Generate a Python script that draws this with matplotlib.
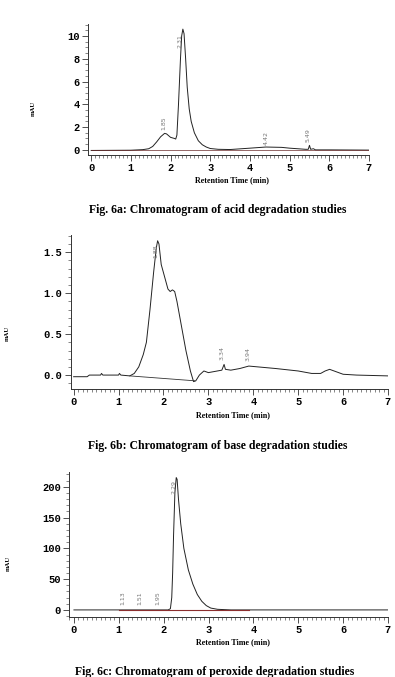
import matplotlib
matplotlib.use("Agg")
import matplotlib.pyplot as plt
from matplotlib.ticker import MultipleLocator

W, H = 395, 677

# ---------------- data ----------------
# Fig 6a: acid degradation
a_time = [0.0, 0.5, 1.0, 1.3, 1.45, 1.55, 1.65, 1.75, 1.85, 1.9, 1.95, 2.0, 2.1, 2.13,
          2.16, 2.2, 2.25, 2.28, 2.31, 2.34, 2.38, 2.42, 2.47, 2.52, 2.6, 2.7, 2.8,
          2.9, 3.0, 3.2, 3.5, 4.0, 4.4, 4.8, 5.0, 5.4, 5.47, 5.5, 5.53, 5.6, 5.65,
          6.0, 7.0]
a_mau = [-0.05, -0.04, -0.03, 0.02, 0.1, 0.3, 0.7, 1.15, 1.45, 1.4, 1.25, 1.1, 1.0, 0.95,
         1.3, 4.0, 8.0, 10.0, 10.6, 10.2, 8.0, 5.5, 3.6, 2.5, 1.5, 0.8, 0.45,
         0.25, 0.12, 0.05, 0.03, 0.15, 0.25, 0.22, 0.15, 0.05, 0.05, 0.4, 0.05, 0.1, 0.0,
         0.0, -0.02]
a_peaks = [1.83, 2.25, 4.42, 5.47]
a_peak_lbl = ["1.85", "2.31", "4.42", "5.49"]
a_peak_y = [1.75, 8.9, 0.45, 0.65]

# Fig 6b: base degradation
b_time = [0.0, 0.3, 0.35, 0.6, 0.62, 0.65, 1.0, 1.02, 1.05, 1.25, 1.35, 1.45, 1.55, 1.62,
          1.7, 1.78, 1.84, 1.87, 1.9, 1.95, 2.0, 2.05, 2.1, 2.15, 2.2, 2.25, 2.3, 2.4,
          2.5, 2.6, 2.67, 2.72, 2.8, 2.9, 3.0, 3.1, 3.3, 3.35, 3.38, 3.5, 3.7, 3.9,
          4.1, 4.5, 5.0, 5.3, 5.5, 5.6, 5.7, 5.8, 6.0, 6.3, 7.0]
b_mau = [-0.02, -0.02, 0.0, 0.0, 0.02, 0.0, 0.0, 0.02, 0.0, -0.01, 0.02, 0.1, 0.25, 0.4,
         0.8, 1.25, 1.55, 1.64, 1.6, 1.35, 1.25, 1.15, 1.05, 1.02, 1.04, 1.02, 0.9, 0.6,
         0.3, 0.05, -0.08, -0.07, 0.0, 0.05, 0.03, 0.04, 0.06, 0.13, 0.07, 0.06, 0.08, 0.11,
         0.1, 0.08, 0.05, 0.02, 0.02, 0.05, 0.07, 0.05, 0.01, 0.0, -0.01]
b_base_t = [1.25, 2.7]
b_base_y = [-0.01, -0.07]
b_peak_lbl = ["1.88", "3.34", "3.94"]
b_peaks = [1.83, 3.3, 3.88]
b_peak_y = [1.43, 0.18, 0.17]

# Fig 6c: peroxide degradation
c_time = [0.0, 1.0, 2.1, 2.15, 2.18, 2.2, 2.22, 2.25, 2.28, 2.3, 2.33, 2.38, 2.45, 2.55,
          2.65, 2.75, 2.85, 2.95, 3.05, 3.2, 3.5, 7.0]
c_mau = [0, 0, 0, 2, 20, 60, 120, 190, 215, 212, 180, 140, 100, 65,
         42, 25, 14, 7, 3, 1, 0, 0]
c_peak_lbl = ["1.13", "1.51", "1.95", "2.29"]
c_peaks = [1.1, 1.48, 1.88, 2.22]
c_peak_y = [8, 8, 8, 188]

captions = ["Fig. 6a: Chromatogram of acid degradation studies",
            "Fig. 6b: Chromatogram of base degradation studies",
            "Fig. 6c: Chromatogram of peroxide degradation studies"]

# ---------------- figure ----------------
fig = plt.figure(figsize=(W / 100, H / 100), dpi=100)
fig.patch.set_facecolor("white")

TICKFONT = dict(family="Liberation Mono", weight="bold", size=7.5)


def make_ax(left_px, right_px, top_px, bottom_px):
    return fig.add_axes([left_px / W, 1 - bottom_px / H,
                         (right_px - left_px) / W, (bottom_px - top_px) / H])


def style(ax, xlim, ylim, ymaj, ymin):
    ax.set_xlim(*xlim)
    ax.set_ylim(*ylim)
    for s in ("top", "right"):
        ax.spines[s].set_visible(False)
    for s in ("left", "bottom"):
        ax.spines[s].set_linewidth(0.7)
        ax.spines[s].set_color("#333333")
    ax.xaxis.set_major_locator(MultipleLocator(1))
    ax.xaxis.set_minor_locator(MultipleLocator(0.1))
    ax.yaxis.set_major_locator(MultipleLocator(ymaj))
    ax.yaxis.set_minor_locator(MultipleLocator(ymin))
    ax.tick_params(axis="both", which="major", length=4, width=0.6, direction="out",
                   color="#333333", pad=2)
    ax.tick_params(axis="both", which="minor", length=2, width=0.5, direction="out",
                   color="#555555")
    ax.set_xticks(range(0, 8))
    ax.set_xticklabels([str(i) for i in range(8)], **TICKFONT)
    ax.patch.set_alpha(0)


def peak_labels(ax, xs, ys, lbls):
    for x, y, t in zip(xs, ys, lbls):
        ax.text(x, y, t, rotation=90, fontsize=4.5, color="#777777",
                ha="center", va="bottom", family="DejaVu Sans")


# ---- panel a ----
axa = make_ax(88, 369, 24, 155)
axa.plot(a_time, a_mau, color="#222222", lw=0.7)
axa.plot([0, 7], [0, 0], color="#6b2b2b", lw=0.5)
style(axa, (-0.08, 7.0), (-0.45, 11.05), 2, 0.5)
axa.set_yticks([0, 2, 4, 6, 8, 10])
axa.set_yticklabels(["0", "2", "4", "6", "8", "10"], **TICKFONT)
peak_labels(axa, a_peaks, a_peak_y, a_peak_lbl)

# ---- panel b ----
axb = make_ax(70.5, 388, 235, 389)
axb.plot(b_time, b_mau, color="#222222", lw=0.7)
axb.plot(b_base_t, b_base_y, color="#333333", lw=0.6)
style(axb, (-0.07, 7.0), (-0.17, 1.71), 0.5, 0.1)
axb.set_yticks([0.0, 0.5, 1.0, 1.5])
axb.set_yticklabels(["0.0", "0.5", "1.0", "1.5"], **TICKFONT)
peak_labels(axb, b_peaks, b_peak_y, b_peak_lbl)

# ---- panel c ----
axc = make_ax(69, 388, 472, 617)
axc.plot(c_time, c_mau, color="#222222", lw=0.7)
axc.plot([1.0, 3.9], [0, 0], color="#8b2e2e", lw=0.8)
style(axc, (-0.11, 7.0), (-11.5, 224), 50, 10)
axc.set_yticks([0, 50, 100, 150, 200])
axc.set_yticklabels(["0", "50", "100", "150", "200"], **TICKFONT)
peak_labels(axc, c_peaks, c_peak_y, c_peak_lbl)

# ---- axis labels ----
XL = dict(family="Liberation Serif", weight="bold", size=5.8, ha="center", va="center")
YL = dict(family="Liberation Serif", weight="bold", size=4.8, rotation=90,
          ha="center", va="center")
for (xx, yy) in [(232, 180), (233, 415), (233, 642)]:
    fig.text(xx / W, 1 - yy / H, "Retention Time (min)", **XL)
for (xx, yy) in [(33, 108), (7, 333), (8, 563)]:
    fig.text(xx / W, 1 - yy / H, "mAU", **YL)

# ---- captions ----
CAP = dict(family="Liberation Serif", weight="bold", size=8.5, ha="center", va="center")
for (xx, yy), cap in zip([(218, 210), (218, 446), (215, 672)], captions):
    fig.text(xx / W, 1 - yy / H, cap, **CAP)

fig.savefig("out.png", dpi=100)
